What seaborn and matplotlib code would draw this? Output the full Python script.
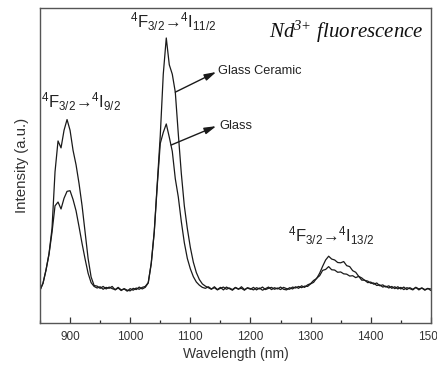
import numpy as np
import pandas as pd
import seaborn as sns
import matplotlib
matplotlib.use("Agg")
import matplotlib.pyplot as plt
from matplotlib.ticker import MultipleLocator, NullLocator

# wavelength grid (nm), 5 nm steps from 850 to 1500
wavelength = np.arange(850, 1501, 5)

# intensity (a.u.), one row = 50 nm
glass_ceramic = [
    0.104, 0.126, 0.168, 0.220, 0.300, 0.480, 0.578, 0.556, 0.612, 0.646,
    0.612, 0.548, 0.502, 0.442, 0.372, 0.290, 0.205, 0.146, 0.119, 0.117,
    0.110, 0.116, 0.108, 0.114, 0.109, 0.106, 0.113, 0.105, 0.108, 0.101,
    0.109, 0.104, 0.111, 0.107, 0.113, 0.116, 0.128, 0.190, 0.290, 0.440,
    0.595, 0.790, 0.905, 0.820, 0.790, 0.733, 0.600, 0.475, 0.372, 0.300,
    0.240, 0.193, 0.160, 0.138, 0.124, 0.117, 0.112, 0.107, 0.115, 0.106,
    0.113, 0.105, 0.114, 0.109, 0.104, 0.112, 0.107, 0.115, 0.106, 0.111,
    0.107, 0.113, 0.105, 0.111, 0.104, 0.109, 0.114, 0.106, 0.112, 0.108,
    0.114, 0.107, 0.105, 0.112, 0.108, 0.115, 0.110, 0.118, 0.113, 0.121,
    0.125, 0.135, 0.141, 0.158, 0.180, 0.200, 0.212, 0.203, 0.200, 0.192,
    0.191, 0.195, 0.182, 0.179, 0.166, 0.161, 0.148, 0.143, 0.135, 0.133,
    0.126, 0.127, 0.119, 0.121, 0.114, 0.117, 0.111, 0.116, 0.109, 0.115,
    0.108, 0.114, 0.106, 0.112, 0.107, 0.113, 0.105, 0.111, 0.104, 0.110,
    0.103,
]

glass = [
    0.104, 0.126, 0.168, 0.218, 0.288, 0.372, 0.384, 0.362, 0.396, 0.418,
    0.420, 0.392, 0.356, 0.305, 0.252, 0.203, 0.158, 0.128, 0.116, 0.111,
    0.115, 0.107, 0.113, 0.110, 0.116, 0.105, 0.111, 0.103, 0.109, 0.104,
    0.102, 0.110, 0.106, 0.114, 0.108, 0.113, 0.127, 0.188, 0.288, 0.436,
    0.570, 0.605, 0.632, 0.590, 0.545, 0.458, 0.400, 0.322, 0.255, 0.205,
    0.172, 0.147, 0.130, 0.120, 0.113, 0.110, 0.115, 0.108, 0.112, 0.105,
    0.110, 0.114, 0.107, 0.111, 0.106, 0.113, 0.108, 0.110, 0.104, 0.112,
    0.109, 0.105, 0.112, 0.108, 0.114, 0.106, 0.110, 0.113, 0.107, 0.111,
    0.106, 0.113, 0.109, 0.107, 0.114, 0.111, 0.116, 0.112, 0.117, 0.116,
    0.124, 0.129, 0.142, 0.150, 0.167, 0.170, 0.179, 0.169, 0.168, 0.161,
    0.162, 0.156, 0.155, 0.149, 0.150, 0.144, 0.148, 0.136, 0.136, 0.128,
    0.130, 0.123, 0.127, 0.118, 0.121, 0.114, 0.118, 0.110, 0.115, 0.108,
    0.113, 0.106, 0.112, 0.109, 0.105, 0.113, 0.108, 0.111, 0.106, 0.109,
    0.108,
]

df = pd.DataFrame({"wavelength": wavelength,
                   "Glass Ceramic": glass_ceramic,
                   "Glass": glass})

sns.set_style("ticks")
plt.rcParams["font.family"] = ["Liberation Sans", "DejaVu Sans"]
plt.rcParams["mathtext.default"] = "regular"

fig = plt.figure(figsize=(4.37, 3.67), dpi=100)
ax = fig.add_axes([0.0915, 0.120, 0.8945, 0.858])

for name in ["Glass Ceramic", "Glass"]:
    sns.lineplot(data=df, x="wavelength", y=name, ax=ax, color="#1a1a1a",
                 linewidth=0.9)

ax.set_xlim(850, 1500)
ax.set_ylim(0, 1)
ax.xaxis.set_major_locator(MultipleLocator(100))
ax.xaxis.set_minor_locator(MultipleLocator(50))
ax.yaxis.set_major_locator(NullLocator())
ax.tick_params(axis="x", which="major", direction="in", length=4, width=0.9,
               labelsize=8.5, pad=6, colors="#333333")
ax.tick_params(axis="x", which="minor", direction="in", length=2.5, width=0.9)
for s in ax.spines.values():
    s.set_color("#555555")
    s.set_linewidth(1.0)

ax.set_xlabel("Wavelength (nm)", fontsize=10, color="#333333", labelpad=3)
ax.set_ylabel("Intensity (a.u.)", fontsize=10.8, color="#333333", labelpad=8)

tc = "#222222"
ax.text(852, 0.683, r"$^4$F$_{3/2}$→$^4$I$_{9/2}$", fontsize=12, color=tc)
ax.text(1000, 0.937, r"$^4$F$_{3/2}$→$^4$I$_{11/2}$", fontsize=12, color=tc)
ax.text(1262, 0.257, r"$^4$F$_{3/2}$→$^4$I$_{13/2}$", fontsize=12, color=tc)
ax.text(1488, 0.905, r"Nd$^{3{+}}$ fluorescence", fontsize=15, ha="right",
        family=["Liberation Serif"], style="italic", color="#111111")

arrow = dict(arrowstyle="-|>,head_length=0.7,head_width=0.2",
             color="#1a1a1a", lw=1.0, shrinkA=0, shrinkB=0)
ax.annotate("", xy=(1143, 0.797), xytext=(1075, 0.733), arrowprops=arrow)
ax.annotate("", xy=(1143, 0.625), xytext=(1068, 0.565), arrowprops=arrow)
ax.text(1146, 0.800, "Glass Ceramic", fontsize=9.2, va="center", color=tc)
ax.text(1149, 0.625, "Glass", fontsize=9.3, va="center", color=tc)

fig.savefig("out.png", dpi=100)
